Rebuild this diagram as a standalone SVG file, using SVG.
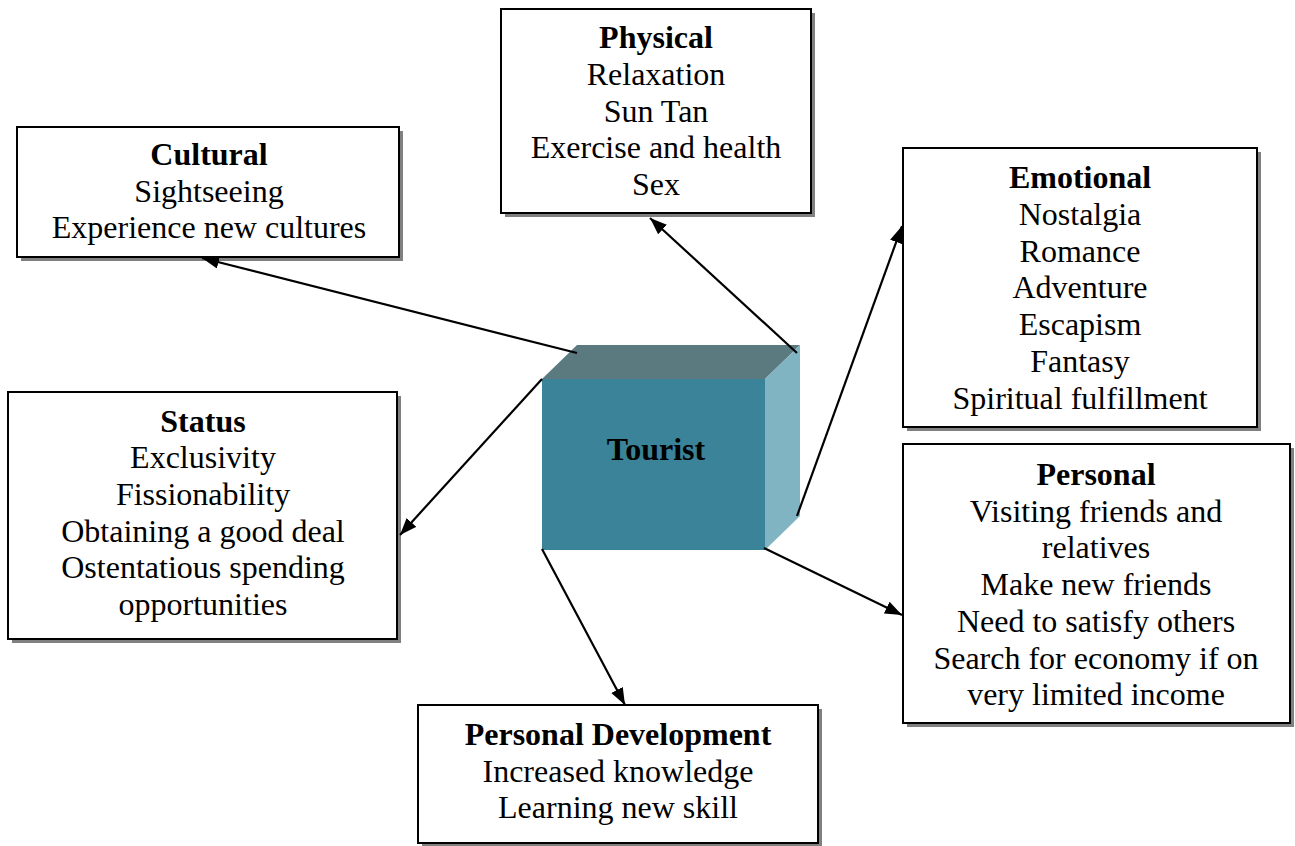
<svg xmlns="http://www.w3.org/2000/svg" width="1295" height="846" viewBox="0 0 1295 846">
<style>
.box{fill:#fff;stroke:#000;stroke-width:2}
.shd{fill:#808080}
.t{font-family:"Liberation Serif","Times New Roman",serif;font-size:32px;fill:#000;text-anchor:middle}
.b{font-weight:bold}
.c{stroke:#000;stroke-width:2.2;fill:none;marker-end:url(#ah)}
</style>
<defs>
<marker id="ah" markerUnits="userSpaceOnUse" markerWidth="18" markerHeight="14" refX="17" refY="6.5" orient="auto">
<path d="M0,0 L17,6.5 L0,13 Z" fill="#000"/>
</marker>
</defs>
<rect width="1295" height="846" fill="#fff"/>

<g id="tourist">
<polygon points="542,379 577,345 800,345 765,379" fill="#5A7A80"/>
<polygon points="765,379 800,345 800,516 765,550" fill="#80B4C2"/>
<rect x="542" y="379" width="223" height="171" fill="#3A8398"/>
<text class="t b" x="656" y="460">Tourist</text>
</g>

<g id="cultural">
<rect class="shd" x="21" y="131" width="382" height="130"/>
<rect class="box" x="17" y="127" width="382" height="130"/>
<text class="t b" x="209" y="165">Cultural</text>
<text class="t" x="209" y="202">Sightseeing</text>
<text class="t" x="209" y="238">Experience new cultures</text>
</g>

<g id="physical">
<rect class="shd" x="505" y="13" width="310" height="204"/>
<rect class="box" x="501" y="9" width="310" height="204"/>
<text class="t b" x="656" y="48">Physical</text>
<text class="t" x="656" y="85">Relaxation</text>
<text class="t" x="656" y="122">Sun Tan</text>
<text class="t" x="656" y="158">Exercise and health</text>
<text class="t" x="656" y="195">Sex</text>
</g>

<g id="emotional">
<rect class="shd" x="907" y="152" width="354" height="279"/>
<rect class="box" x="903" y="148" width="354" height="279"/>
<text class="t b" x="1080" y="188">Emotional</text>
<text class="t" x="1080" y="225">Nostalgia</text>
<text class="t" x="1080" y="262">Romance</text>
<text class="t" x="1080" y="298">Adventure</text>
<text class="t" x="1080" y="335">Escapism</text>
<text class="t" x="1080" y="372">Fantasy</text>
<text class="t" x="1080" y="409">Spiritual fulfillment</text>
</g>

<g id="status">
<rect class="shd" x="12" y="396" width="389" height="247"/>
<rect class="box" x="8" y="392" width="389" height="247"/>
<text class="t b" x="203" y="432">Status</text>
<text class="t" x="203" y="468">Exclusivity</text>
<text class="t" x="203" y="505">Fissionability</text>
<text class="t" x="203" y="542">Obtaining a good deal</text>
<text class="t" x="203" y="578">Ostentatious spending</text>
<text class="t" x="203" y="615">opportunities</text>
</g>

<g id="personal">
<rect class="shd" x="907" y="448" width="387" height="279"/>
<rect class="box" x="903" y="444" width="387" height="279"/>
<text class="t b" x="1096" y="485">Personal</text>
<text class="t" x="1096" y="522">Visiting friends and</text>
<text class="t" x="1096" y="558">relatives</text>
<text class="t" x="1096" y="595">Make new friends</text>
<text class="t" x="1096" y="632">Need to satisfy others</text>
<text class="t" x="1096" y="669">Search for economy if on</text>
<text class="t" x="1096" y="705">very limited income</text>
</g>

<g id="personal-development">
<rect class="shd" x="422" y="709" width="400" height="138"/>
<rect class="box" x="418" y="705" width="400" height="138"/>
<text class="t b" x="618" y="745">Personal Development</text>
<text class="t" x="618" y="782">Increased knowledge</text>
<text class="t" x="618" y="818">Learning new skill</text>
</g>

<g id="connectors">
<line class="c" x1="577" y1="353" x2="202" y2="258"/>
<line class="c" x1="797" y1="353" x2="650" y2="218"/>
<line class="c" x1="797" y1="516" x2="902" y2="226"/>
<line class="c" x1="542" y1="379" x2="400" y2="535"/>
<line class="c" x1="542" y1="549" x2="625" y2="705"/>
<line class="c" x1="764" y1="548" x2="902" y2="615"/>
</g>
</svg>
